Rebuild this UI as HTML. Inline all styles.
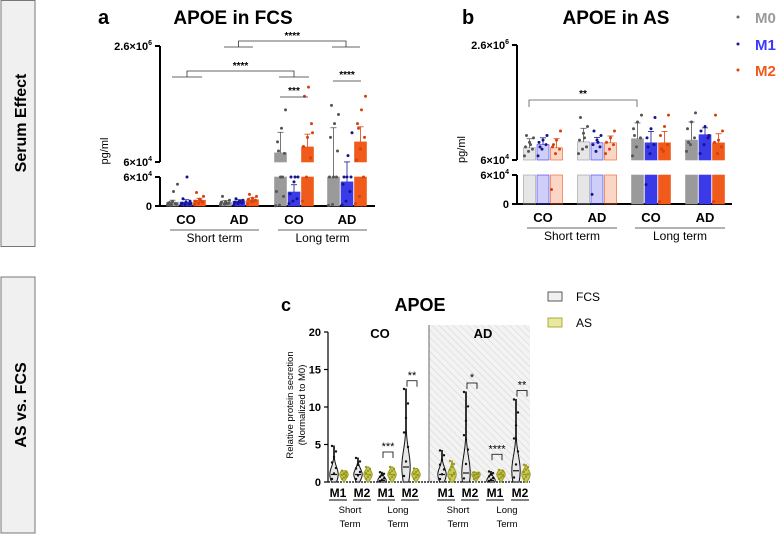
<!DOCTYPE html>
<html><head><meta charset="utf-8">
<style>
html,body{margin:0;padding:0;background:#fff;}
svg{display:block;font-family:"Liberation Sans",Arial,sans-serif;}
</style></head>
<body>
<svg id="fig" width="777" height="535" viewBox="0 0 777 535" xmlns="http://www.w3.org/2000/svg">
  <g>
    <rect x="1" y="0.5" width="34" height="246" fill="#f0f0f0" stroke="#777"/>
    <text transform="translate(26,123) rotate(-90)" text-anchor="middle" font-size="16" font-weight="bold">Serum Effect</text>
  </g>
  <g>
    <rect x="1" y="277" width="34" height="256" fill="#f0f0f0" stroke="#777"/>
    <text transform="translate(26,405) rotate(-90)" text-anchor="middle" font-size="16" font-weight="bold">AS vs. FCS</text>
  </g>
  <text x="98" y="24" font-size="20" font-weight="bold">a</text>
  <text x="233" y="24" font-size="19" font-weight="bold" text-anchor="middle">APOE in FCS</text>
  <text x="462" y="24" font-size="20" font-weight="bold">b</text>
  <text x="616" y="24" font-size="19" font-weight="bold" text-anchor="middle">APOE in AS</text>
  <g>
    <circle cx="738" cy="17" r="1.5" fill="#666"/><text x="755" y="23" font-size="15" font-weight="bold" fill="#9a9a9a">M0</text>
    <circle cx="738" cy="44" r="1.5" fill="#1a1aa0"/><text x="755" y="50" font-size="15" font-weight="bold" fill="#3a3aff">M1</text>
    <circle cx="738" cy="70" r="1.5" fill="#e04010"/><text x="755" y="76" font-size="15" font-weight="bold" fill="#f05a1a">M2</text>
  </g>
  <g id="pa"></g>
  <g id="pb"></g>
  <g id="pc"></g>
</svg>
<script>
const groupsAB = ["CO","AD","CO","AD"];
const termsAB = ["Short term","Long term"];
const seriesAB = ["M0","M1","M2"];
const fcsM0 = [8000, 8000, 260000, 60000];
const fcsM1 = [8000, 10000, 29000, 50000];
const fcsM2 = [12000, 13000, 390000, 500000];
const fcsErrM0 = [4000, 3000, 450000, 750000];
const fcsErrM1 = [5000, 3000, 15000, 12000];
const fcsErrM2 = [4000, 4000, 280000, 330000];
const asM0 = [330000, 460000, 530000, 500000];
const asM1 = [400000, 440000, 440000, 620000];
const asM2 = [330000, 440000, 440000, 440000];
const asErrM0 = [200000, 300000, 350000, 400000];
const asErrM1 = [150000, 120000, 250000, 150000];
const asErrM2 = [200000, 150000, 250000, 200000];
const fcsDotsM0 = [[2000,3000,5000,6000,9000,4000,7000,30000,45000,1000],[3000,4000,6000,8000,9000,12000,20000,5000],[500,1500,20000,30000,60000,250000,500000,800000,1200000,300000,60000],[1000,3000,60000,60000,60000,300000,600000,900000,1100000,1300000]];
const fcsDotsM1 = [[2000,3000,4000,6000,8000,10000,15000,60000,5000],[3000,5000,6000,8000,9000,12000,15000,10000],[5000,10000,15000,25000,50000,60000,60000,60000],[2000,10000,30000,45000,60000,60000,60000,200000,700000]];
const fcsDotsM2 = [[3000,6000,8000,10000,14000,20000,28000,12000],[5000,9000,12000,14000,16000,20000,24000,10000],[10000,60000,150000,400000,600000,900000,1500000,1700000,700000],[5000,20000,60000,100000,350000,600000,900000,1200000,1500000,800000]];
const asDotsM0 = [[150000,250000,300000,350000,450000,550000,600000,400000],[200000,300000,350000,500000,650000,800000,1000000,550000],[150000,350000,550000,750000,900000,1050000,600000],[250000,400000,550000,750000,900000,1100000,450000]];
const asDotsM1 = [[150000,300000,400000,450000,500000,600000,350000],[20000,250000,350000,400000,500000,600000,700000,450000],[40000,200000,400000,550000,750000,1000000,350000],[200000,400000,550000,700000,800000,600000]];
const asDotsM2 = [[30000,200000,300000,350000,500000,700000,400000],[200000,300000,400000,450000,550000,700000],[5000,250000,400000,600000,800000,1050000,300000],[5000,200000,350000,450000,500000,700000,1050000]];

const NS = "http://www.w3.org/2000/svg";
function el(parent, tag, attrs, text){
  const e = document.createElementNS(NS, tag);
  for (const k in attrs) e.setAttribute(k, attrs[k]);
  if (text !== undefined) e.textContent = text;
  parent.appendChild(e);
  return e;
}
const colors = ["#9a9a9a","#3a3ae8","#f05a1a"];
const dotColors = ["#555","#14148c","#d8400c"];

function drawAB(g, cfg){
  const ax = cfg.axisX, up0 = cfg.upBottom, upTop = cfg.upTop, lowTop = cfg.lowTop, zero = cfg.zero;
  const BRK = 60000, MAX = 2600000;
  function y(v){
    if (v <= BRK) return zero - (v/BRK)*(zero-lowTop);
    return up0 - (v-BRK)/(MAX-BRK)*(up0-upTop);
  }
  function yLow(v){ return zero - Math.min(v,BRK)/BRK*(zero-lowTop); }
  const gx = i => cfg.centers[i];
  const sx = (i,s) => gx(i) + (s-1)*13.5;
  const axis = el(g,"g",{});
  
  
  el(axis,"line",{x1:ax,y1:upTop,x2:ax,y2:up0,stroke:"#000","stroke-width":2});
  el(axis,"line",{x1:ax,y1:lowTop,x2:ax,y2:zero,stroke:"#000","stroke-width":2});
  [[upTop,"2.6×10"],[up0,"6×10"],[lowTop,"6×10"],[zero,"0"]].forEach((t,i)=>{
    el(axis,"line",{x1:ax-5,y1:t[0],x2:ax,y2:t[0],stroke:"#000","stroke-width":2});
    const tx = el(axis,"text",{x:ax-8,y:t[0]+4,"font-size":11,"font-weight":"bold","text-anchor":"end"});
    tx.textContent = t[1];
    if (i<3){ el(tx,"tspan",{"font-size":7,dy:-5}, i==0?"6":"4"); }
  });
  el(axis,"text",{transform:`translate(${ax-52},${(upTop+zero)/2+25}) rotate(-90)`,"font-size":11,"text-anchor":"middle"},"pg/ml");
  const xa = el(g,"line",{x1:ax,y1:zero,x2:cfg.axisEnd,y2:zero,stroke:"#000","stroke-width":2});
  
  
  const vals=[cfg.m0,cfg.m1,cfg.m2], errs=[cfg.e0,cfg.e1,cfg.e2], dots=[cfg.d0,cfg.d1,cfg.d2];
  for (let i=0;i<4;i++){
    for (let s=0;s<3;s++){
      const v = vals[s][i], x = sx(i,s);
      const op = (cfg.lightShort && i<2) ? 0.25 : 1;
      const bg = el(g,"g",{});
      
      
      el(bg,"rect",{x:x-6,y:yLow(v),width:12,height:zero-yLow(v),fill:colors[s],"fill-opacity":op,stroke:colors[s],"stroke-width":0.6});
      if (v>BRK) el(bg,"rect",{x:x-6,y:y(v),width:12,height:up0-y(v),fill:colors[s],"fill-opacity":op,stroke:colors[s],"stroke-width":0.6});
      const et = y(v+errs[s][i]);
      el(bg,"line",{x1:x,y1:y(v),x2:x,y2:et,stroke:dotColors[s],"stroke-width":0.8});
      el(bg,"line",{x1:x-3,y1:et,x2:x+3,y2:et,stroke:dotColors[s],"stroke-width":0.8});
      dots[s][i].forEach((d,k)=>{
        el(bg,"circle",{cx:x-5+(k*4)%11,cy:y(d),r:1.5,fill:dotColors[s]});
      });
    }
  }
  for (let i=0;i<4;i++){
    el(g,"text",{x:gx(i),y:zero+18,"font-size":13,"font-weight":"bold","text-anchor":"middle"},groupsAB[i]);
  }
  for (let t=0;t<2;t++){
    const x1 = gx(2*t)-16, x2 = gx(2*t+1)+20;
    el(g,"line",{x1:x1,y1:zero+24,x2:x2,y2:zero+24,stroke:"#666","stroke-width":1});
    el(g,"text",{x:(x1+x2)/2,y:zero+36,"font-size":12,"text-anchor":"middle"},termsAB[t]);
  }
}

drawAB(document.getElementById("pa"),{axisX:160,axisEnd:375,upTop:46,upBottom:162,lowTop:177,zero:206,
  centers:[186,239,294,347],m0:fcsM0,m1:fcsM1,m2:fcsM2,e0:fcsErrM0,e1:fcsErrM1,e2:fcsErrM2,
  d0:fcsDotsM0,d1:fcsDotsM1,d2:fcsDotsM2,lightShort:false});
drawAB(document.getElementById("pb"),{axisX:517,axisEnd:732,upTop:45,upBottom:160,lowTop:175,zero:204,
  centers:[543,597,651,705],m0:asM0,m1:asM1,m2:asM2,e0:asErrM0,e1:asErrM1,e2:asErrM2,
  d0:asDotsM0,d1:asDotsM1,d2:asDotsM2,lightShort:true});

function bracketGroup(g,x1a,x1b,x2a,x2b,yTop,drop,label){
  const b = el(g,"g",{});
  
  
  const m1=(x1a+x1b)/2, m2=(x2a+x2b)/2;
  el(b,"line",{x1:x1a,y1:yTop+drop,x2:x1b,y2:yTop+drop,stroke:"#333","stroke-width":0.8});
  el(b,"line",{x1:x2a,y1:yTop+drop,x2:x2b,y2:yTop+drop,stroke:"#333","stroke-width":0.8});
  el(b,"polyline",{points:`${m1},${yTop+drop} ${m1},${yTop} ${m2},${yTop} ${m2},${yTop+drop}`,fill:"none",stroke:"#333","stroke-width":0.8});
  el(b,"text",{x:(m1+m2)/2,y:yTop-2,"font-size":10,"text-anchor":"middle","font-weight":"bold"},label);
}
const pa = document.getElementById("pa");
bracketGroup(pa,224,253,332,360,41,6,"****");
bracketGroup(pa,172,202,279,309,71,6,"****");
const s1 = el(pa,"g",{});  
el(s1,"line",{x1:280,y1:97,x2:308,y2:97,stroke:"#333","stroke-width":0.8});
el(s1,"text",{x:294,y:94,"font-size":10,"text-anchor":"middle","font-weight":"bold"},"***");
const s2 = el(pa,"g",{});  
el(s2,"line",{x1:333,y1:81,x2:361,y2:81,stroke:"#333","stroke-width":0.8});
el(s2,"text",{x:347,y:78,"font-size":10,"text-anchor":"middle","font-weight":"bold"},"****");
const pb = document.getElementById("pb");
const s3 = el(pb,"g",{});  
el(s3,"polyline",{points:"529,107 529,100 637,100 637,107",fill:"none",stroke:"#555","stroke-width":0.8});
el(s3,"text",{x:583,y:97,"font-size":10,"text-anchor":"middle","font-weight":"bold"},"**");

const catsC = ["M1","M2","M1","M2","M1","M2","M1","M2"];
const fcsMax = [4.8, 3.2, 1.3, 12.4, 4.2, 12.0, 1.4, 11.0];
const asMax = [1.5, 2.0, 2.0, 1.8, 2.8, 1.3, 1.6, 2.3];
const fcsMed = [1.0, 1.0, 0.2, 2.0, 1.0, 1.2, 0.2, 1.5];
const asMed = [1.0, 1.0, 1.0, 1.0, 1.0, 1.0, 1.0, 1.0];
const yTicksC = [0,5,10,15,20];
const sigC = [{i:2,label:"***",h:4},{i:3,label:"**",h:13.5},{i:5,label:"*",h:13.2},{i:6,label:"****",h:3.7},{i:7,label:"**",h:12.2}];

(function(){
  const g = document.getElementById("pc");
  const ax=328, x1=530, y0=482, ppu=7.5;
  const yC = v => y0 - v*ppu;
  const catX = [338,362,386,410,446,470,495,520];
  el(g,"text",{x:281,y:311,"font-size":18,"font-weight":"bold"},"c");
  el(g,"text",{x:420,y:311,"font-size":18,"font-weight":"bold","text-anchor":"middle"},"APOE");
  const defs = el(g,"defs",{});
  const pat = el(defs,"pattern",{id:"hatch",width:5,height:5,patternUnits:"userSpaceOnUse",patternTransform:"rotate(-45)"});
  el(pat,"rect",{width:5,height:5,fill:"#f3f3f3"});
  el(pat,"line",{x1:0,y1:0,x2:0,y2:5,stroke:"#d8d8d8","stroke-width":1.2});
  const ad = el(g,"rect",{x:429,y:325,width:101,height:157,fill:"url(#hatch)"});
  
  
  el(g,"line",{x1:429,y1:325,x2:429,y2:482,stroke:"#444","stroke-width":0.8});
  el(g,"text",{x:380,y:338,"font-size":13,"font-weight":"bold","text-anchor":"middle"},"CO");
  el(g,"text",{x:483,y:338,"font-size":13,"font-weight":"bold","text-anchor":"middle"},"AD");
  const ya = el(g,"g",{});
  
  
  el(ya,"line",{x1:ax,y1:yC(20),x2:ax,y2:y0,stroke:"#000","stroke-width":1.2});
  yTicksC.forEach(t=>{
    el(ya,"line",{x1:ax-4,y1:yC(t),x2:ax,y2:yC(t),stroke:"#000","stroke-width":1.2});
    el(ya,"text",{x:ax-7,y:yC(t)+4,"font-size":11,"font-weight":"bold","text-anchor":"end"},String(t));
  });
  el(ya,"text",{transform:"translate(293,405) rotate(-90)","font-size":9.5,"text-anchor":"middle"},"Relative protein secretion");
  el(ya,"text",{transform:"translate(305,405) rotate(-90)","font-size":9.5,"text-anchor":"middle"},"(Normalized to M0)");
  el(g,"line",{x1:ax,y1:y0,x2:x1,y2:y0,stroke:"#000","stroke-width":1.2,"stroke-dasharray":"2,1"});
  function violin(cx, max, med, color, fill, name){
    const vg = el(g,"g",{});
    
    
    const hw = 4.2, n=16; let L=[],R=[];
    for (let k=0;k<=n;k++){
      const t=k/n, v=t*max;
      const w = hw*Math.max(0.08, Math.exp(-Math.pow((v-med)/(0.22*max+0.35),2)));
      L.push(`${cx-w},${yC(v)}`); R.unshift(`${cx+w},${yC(v)}`);
    }
    el(vg,"polygon",{points:L.concat(R).join(" "),fill:fill,stroke:color,"stroke-width":1});
    el(vg,"line",{x1:cx-3,y1:yC(med),x2:cx+3,y2:yC(med),stroke:color,"stroke-width":1.2});
    for (let k=0;k<7;k++){
      el(vg,"circle",{cx:cx-2+(k%3)*2,cy:yC(med*0.4+k*(max-med*0.4)/6),r:1.2,fill:color});
    }
  }
  for (let i=0;i<8;i++){
    violin(catX[i]-4,fcsMax[i],fcsMed[i],"#111","#e8e8e8","violin-fcs-"+i);
    violin(catX[i]+6,asMax[i],asMed[i],"#9a9a1a","#c8c860","violin-as-"+i);
    el(g,"text",{x:catX[i],y:497,"font-size":12,"font-weight":"bold","text-anchor":"middle"},catsC[i]);
    el(g,"line",{x1:catX[i]-9,y1:500,x2:catX[i]+9,y2:500,stroke:"#000","stroke-width":1});
  }
  const subX=[350,398,458,507], sub1=["Short","Long","Short","Long"];
  subX.forEach((x,k)=>{
    el(g,"text",{x:x,y:513,"font-size":9.5,"text-anchor":"middle"},sub1[k]);
    el(g,"text",{x:x,y:527,"font-size":9.5,"text-anchor":"middle"},"Term");
  });
  sigC.forEach(s=>{
    const sg = el(g,"g",{});
    
    
    const xa=catX[s.i]-3, xb=catX[s.i]+7, yy=yC(s.h);
    el(sg,"polyline",{points:`${xa},${yy+6} ${xa},${yy} ${xb},${yy} ${xb},${yy+6}`,fill:"none",stroke:"#000","stroke-width":0.8});
    el(sg,"text",{x:(xa+xb)/2,y:yy-2,"font-size":11,"text-anchor":"middle"},s.label);
  });
  const lg = el(g,"g",{});
  
  
  el(lg,"rect",{x:548,y:292,width:14,height:9,fill:"#f0f0f0",stroke:"#333","stroke-width":0.8});
  el(lg,"text",{x:576,y:301,"font-size":12},"FCS");
  el(lg,"rect",{x:548,y:318,width:14,height:9,fill:"#e8e8a0",stroke:"#9a9a1a","stroke-width":0.8});
  el(lg,"text",{x:576,y:327,"font-size":12},"AS");
})();
</script>
</body></html>
